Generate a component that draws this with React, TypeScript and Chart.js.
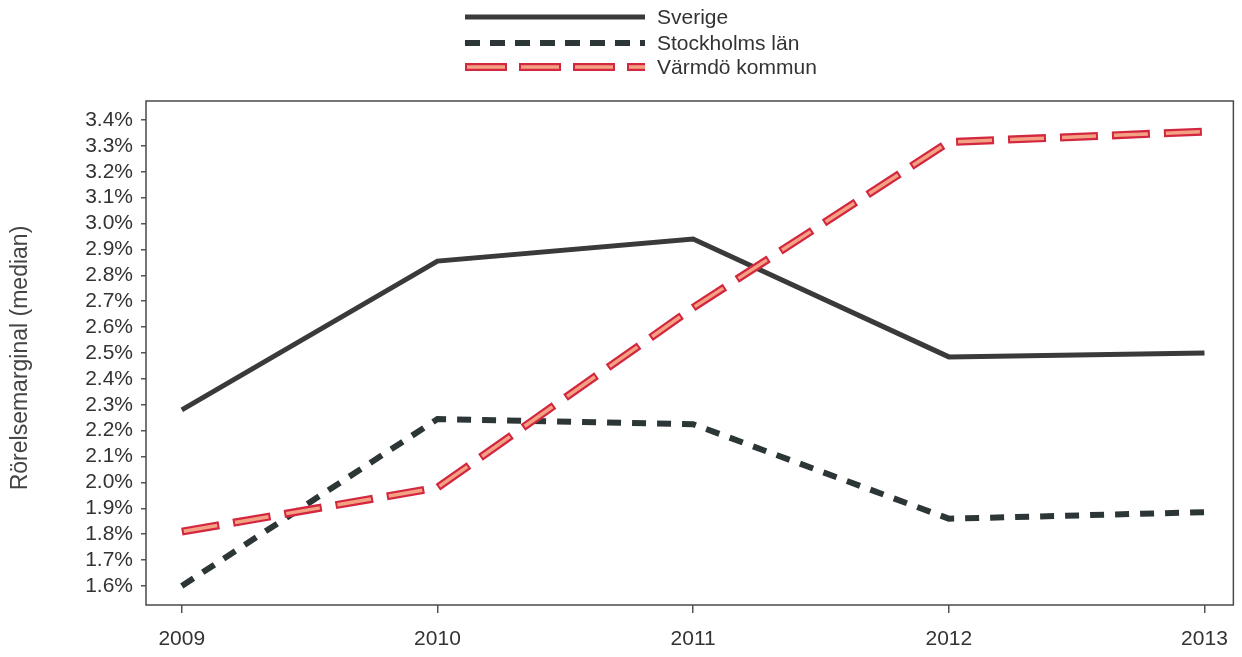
import React, { useEffect, useRef } from "react";
import { Chart, registerables } from "chart.js";

Chart.register(...registerables);

const years = [2009, 2010, 2011, 2012, 2013];
const sverige = [2.28, 2.855, 2.94, 2.485, 2.5];
const stockholm = [1.6, 2.245, 2.225, 1.86, 1.885];
const varmdo = [1.81, 1.98, 2.675, 3.315, 3.355];
const yTicks = [1.6, 1.7, 1.8, 1.9, 2.0, 2.1, 2.2, 2.3, 2.4, 2.5, 2.6, 2.7, 2.8, 2.9, 3.0, 3.1, 3.2, 3.3, 3.4];
const seriesNames = ["Sverige", "Stockholms län", "Värmdö kommun"];
const yTitle = "Rörelsemarginal (median)";

const FONT = "'Liberation Sans', Arial, sans-serif";
const C_SVE = "#3a3a3a";
const C_STO = "#2d3636";
const C_VAR_OUT = "#d3273f";
const C_VAR_IN = "#f4a283";

const pts = (vals: number[]) => years.map((y, i) => ({ x: y, y: vals[i] }));

const decorPlugin = {
  id: "decor",
  afterDraw(chart: any) {
    const ctx = chart.ctx;
    const a = chart.chartArea;
    ctx.save();
    // frame
    ctx.strokeStyle = "#4a4a4a";
    ctx.lineWidth = 1.5;
    ctx.strokeRect(a.left, a.top, a.right - a.left, a.bottom - a.top);
    // y title
    ctx.fillStyle = "#444";
    ctx.font = `23px ${FONT}`;
    ctx.textAlign = "center";
    ctx.textBaseline = "middle";
    ctx.translate(21, 358);
    ctx.rotate(-Math.PI / 2);
    ctx.fillText(yTitle, 0, 0);
    ctx.restore();

    // legend
    ctx.save();
    const x0 = 465, x1 = 645;
    const rows = [17, 43, 67];
    ctx.lineCap = "butt";
    // Sverige
    ctx.strokeStyle = C_SVE; ctx.lineWidth = 5; ctx.setLineDash([]);
    ctx.beginPath(); ctx.moveTo(x0, rows[0]); ctx.lineTo(x1, rows[0]); ctx.stroke();
    // Stockholm
    ctx.strokeStyle = C_STO; ctx.lineWidth = 6; ctx.setLineDash([15, 10]);
    ctx.beginPath(); ctx.moveTo(x0, rows[1]); ctx.lineTo(x1, rows[1]); ctx.stroke();
    // Värmdö
    ctx.strokeStyle = C_VAR_OUT; ctx.lineWidth = 8; ctx.setLineDash([42, 12]);
    ctx.beginPath(); ctx.moveTo(x0, rows[2]); ctx.lineTo(x1, rows[2]); ctx.stroke();
    ctx.strokeStyle = C_VAR_IN; ctx.lineWidth = 3.5; ctx.setLineDash([38, 16]);
    ctx.lineDashOffset = -2;
    ctx.beginPath(); ctx.moveTo(x0, rows[2]); ctx.lineTo(x1, rows[2]); ctx.stroke();
    ctx.setLineDash([]);
    ctx.fillStyle = "#333";
    ctx.font = `21px ${FONT}`;
    ctx.textAlign = "left";
    ctx.textBaseline = "middle";
    seriesNames.forEach((n, i) => ctx.fillText(n, 657, rows[i] + 1));
    ctx.restore();
  },
};

export default function App() {
  const ref = useRef<HTMLCanvasElement>(null);
  useEffect(() => {
    document.body.style.margin = "0";
    const chart = new Chart(ref.current!, {
      type: "line",
      data: {
        datasets: [
          {
            label: seriesNames[0],
            data: pts(sverige),
            borderColor: C_SVE,
            borderWidth: 5,
            pointRadius: 0,
            tension: 0,
            order: 3,
          },
          {
            label: seriesNames[1],
            data: pts(stockholm),
            borderColor: C_STO,
            borderWidth: 6,
            borderDash: [14, 11],
            pointRadius: 0,
            tension: 0,
            order: 2,
          },
          {
            label: seriesNames[2],
            data: pts(varmdo),
            borderColor: C_VAR_OUT,
            borderWidth: 8,
            borderDash: [38, 14],
            pointRadius: 0,
            tension: 0,
            order: 1,
          },
          {
            label: seriesNames[2] + " inner",
            data: pts(varmdo),
            borderColor: C_VAR_IN,
            borderWidth: 3.5,
            borderDash: [34, 18],
            borderDashOffset: -2,
            pointRadius: 0,
            tension: 0,
            order: 0,
          },
        ],
      },
      options: {
        responsive: false,
        animation: false,
        layout: { padding: { top: 101, right: 6, left: 0, bottom: 0 } },
        plugins: { legend: { display: false }, tooltip: { enabled: false } },
        scales: {
          x: {
            type: "linear",
            min: 2008.86,
            max: 2013.113,
            afterBuildTicks: (s: any) => {
              s.ticks = years.map((v) => ({ value: v }));
            },
            afterFit: (s: any) => {
              s.height = 52;
            },
            border: { display: false },
            grid: { drawOnChartArea: false, drawTicks: true, tickLength: 8, color: "#555", lineWidth: 1.5 },
            ticks: {
              color: "#333",
              font: { family: FONT, size: 21 },
              padding: 14,
              maxRotation: 0,
              autoSkip: false,
              callback: (v: any) => String(v),
            },
          },
          y: {
            type: "linear",
            min: 1.5266,
            max: 3.4734,
            afterBuildTicks: (s: any) => {
              s.ticks = yTicks.map((v) => ({ value: v }));
            },
            afterFit: (s: any) => {
              s.width = 146;
            },
            border: { display: false },
            grid: { drawOnChartArea: false, drawTicks: true, tickLength: 5, color: "#555", lineWidth: 1.5 },
            ticks: {
              color: "#333",
              font: { family: FONT, size: 21 },
              padding: 8,
              autoSkip: false,
              callback: (v: any) => Number(v).toFixed(1) + "%",
            },
          },
        },
      },
      plugins: [decorPlugin],
    } as any);
    return () => chart.destroy();
  }, []);
  return (
    <div style={{ position: "absolute", left: 0, top: 0, width: 1242, height: 657, background: "#fff" }}>
      <canvas ref={ref} width={1242} height={657} />
    </div>
  );
}
